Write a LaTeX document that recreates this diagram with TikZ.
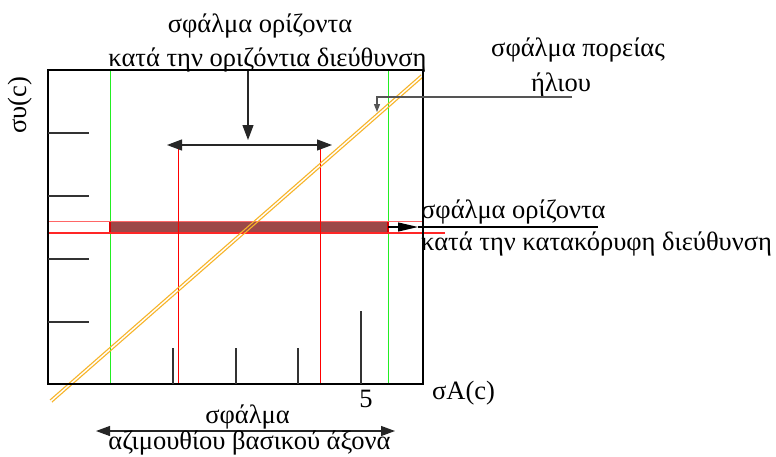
\documentclass[tikz,border=0pt]{standalone}
\usepackage{fontspec}
\setmainfont{Liberation Serif}
\usetikzlibrary{arrows.meta}
\definecolor{sunc}{HTML}{F7B52A}
\definecolor{bandfill}{HTML}{9C4848}
\definecolor{grn}{HTML}{22EE22}
\definecolor{ledc}{HTML}{555555}
\begin{document}
\begin{tikzpicture}[x=1pt,y=-1pt,
  lbl/.style={inner sep=0pt,font=\fontsize{26.5}{30}\selectfont,text=black},
  frame/.style={draw=black,line width=1.3pt},
  tickl/.style={draw=black!80,line width=1.1pt},
  gline/.style={draw=grn,line width=1pt},
  rline/.style={draw=red,line width=1pt},
  sunline/.style={draw=sunc,line width=1.1pt},
  bigarrow/.style={line width=1.1pt,draw=black!85,-{Triangle[length=15pt,width=11pt]}},
  dblarrow/.style={line width=1.1pt,draw=black!85,{Triangle[length=15pt,width=11pt]}-{Triangle[length=15pt,width=11pt]}}
]
\useasboundingbox (0,0) rectangle (776,456);
\fill[white] (0,0) rectangle (776,456);

% green lines
\coordinate (g1t) at (110,70); \coordinate (g1b) at (110,384);
\coordinate (g2t) at (388,70); \coordinate (g2b) at (388,384);
\draw[gline] (g1t) -- (g1b);
\draw[gline] (g2t) -- (g2b);

% band
\node[draw=red!85!black,line width=1.2pt,fill=bandfill,minimum width=278pt,minimum height=11pt,inner sep=0pt] (band) at (249,227) {};
\coordinate (h1a) at (48,221.5); \coordinate (h1b) at (423,221.5);
\coordinate (h2a) at (48,233); \coordinate (h2b) at (445,233);
\draw[draw=red!60,line width=1.2pt] (h1a) -- (h1b);
\draw[draw=red!85,line width=1.5pt] (h2a) -- (h2b);

% red vertical lines
\coordinate (r1t) at (178,148); \coordinate (r1b) at (178,384);
\coordinate (r2t) at (320,148); \coordinate (r2b) at (320,384);
\draw[rline] (r1t) -- (r1b);
\draw[rline] (r2t) -- (r2b);

% sun path double line
\coordinate (s1a) at (50.1,399.9);
\coordinate (s2a) at (421.1,74.9);
\coordinate (s1b) at (51.9,402.1);
\coordinate (s2b) at (422.9,77.1);
\draw[sunline] (s1a) -- (s2a);
\draw[sunline] (s1b) -- (s2b);

% frame
\draw[frame] (48,70) -- (423,70) -- (423,384) -- (48,384) -- cycle;

% left ticks
\foreach \yy/\nm in {133/ta,196/tb,259/tc,322/td}{
  \coordinate (\nm1) at (48,\yy); \coordinate (\nm2) at (89,\yy);
  \draw[tickl] (\nm1) -- (\nm2);
}
% bottom ticks
\foreach \xx/\hh/\nm in {173/348/ba,236/348/bb,298/348/bc,361/311/bd}{
  \coordinate (\nm1) at (\xx,384); \coordinate (\nm2) at (\xx,\hh);
  \draw[tickl] (\nm1) -- (\nm2);
}

% axis labels
\node[lbl,anchor=base] (five) at (366,407) {5};
\node[lbl,anchor=base west] (xlab) at (432,399) {σA(c)};
\node[lbl,anchor=base,rotate=90] (ylab) at (26,105) {συ(c)};

% top label and arrows
\node[lbl,anchor=base] (t1) at (260,32) {σφάλμα ορίζοντα};
\node[lbl,anchor=base] (t2) at (267.5,66) {κατά την οριζόντια διεύθυνση};
\coordinate (da) at (248,71);
\coordinate (db) at (248,140);
\draw[bigarrow] (da) -- (db);
\coordinate (ha) at (167,145);
\coordinate (hb) at (332,145);
\draw[dblarrow] (ha) -- (hb);

% sun label and leader
\node[lbl,anchor=base] (sl1) at (578,56) {σφάλμα πορείας};
\node[lbl,anchor=base] (sl2) at (561,91) {ήλιου};
\coordinate (la) at (572,97);
\coordinate (lb) at (377,97);
\coordinate (lc) at (377,112);
\draw[line width=1.1pt,draw=ledc,-{Triangle[length=8pt,width=6pt]}] (la) -- (lb) -- (lc);

% vertical error label
\coordinate (va) at (388,227);
\coordinate (vb) at (418,227);
\coordinate (vc) at (598,227);
\draw[line width=1.1pt,draw=black] (vb) -- (vc);
\draw[line width=1.1pt,draw=black,-{Triangle[length=20pt,width=9pt]}] (va) -- (vb);
\node[lbl,anchor=base west] (v1) at (421,218) {σφάλμα ορίζοντα};
\node[lbl,anchor=base west] (v2) at (421,250) {κατά την κατακόρυφη διεύθυνση};

% azimuth label
\coordinate (aa) at (96,431);
\coordinate (ab) at (395,431);
\draw[dblarrow,{Triangle[length=14pt,width=10pt]}-{Triangle[length=14pt,width=10pt]}] (aa) -- (ab);
\node[lbl,anchor=base] (a1) at (247.5,423) {σφάλμα};
\node[lbl,anchor=base] (a2) at (249.5,449) {αζιμουθίου βασικού άξονα};
\end{tikzpicture}
\end{document}
